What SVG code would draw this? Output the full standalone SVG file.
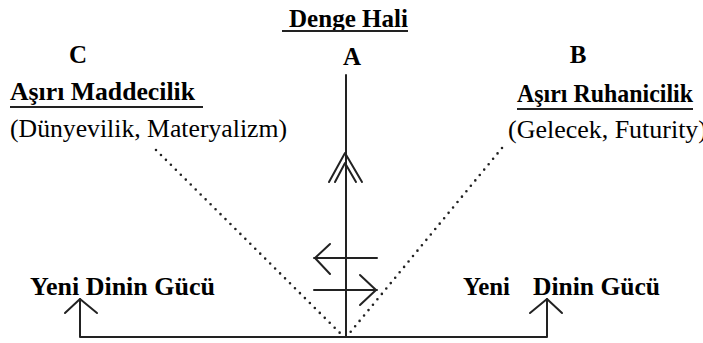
<svg xmlns="http://www.w3.org/2000/svg" width="703" height="343" viewBox="0 0 703 343">
<style>
.ln{stroke:#222;stroke-width:2;fill:none;stroke-linecap:round;stroke-linejoin:round}
.dot{stroke:#222;stroke-width:2.6;fill:none;stroke-linecap:round;stroke-dasharray:0 7}
.ul{stroke:#222;stroke-width:2}
</style>
<rect width="703" height="343" fill="#fff"/>
<g id="title">
<text style="font-family:'Liberation Serif',serif;font-size:25px;font-weight:bold" x="289" y="27" textLength="119" lengthAdjust="spacingAndGlyphs">Denge Hali</text>
<line class="ul" x1="282" y1="31" x2="408" y2="31"/>
</g>
<g id="nodeA"><text style="font-family:'Liberation Serif',serif;font-size:25px;font-weight:bold" x="352" y="65" text-anchor="middle">A</text></g>
<g id="nodeC">
<text style="font-family:'Liberation Serif',serif;font-size:25px;font-weight:bold" x="78" y="63" text-anchor="middle">C</text>
<text style="font-family:'Liberation Serif',serif;font-size:25px;font-weight:bold" x="10" y="100" textLength="185" lengthAdjust="spacingAndGlyphs">Aşırı Maddecilik</text>
<line class="ul" x1="10" y1="107" x2="203" y2="107"/>
<text style="font-family:'Liberation Serif',serif;font-size:25px" x="10" y="137" textLength="277" lengthAdjust="spacingAndGlyphs">(Dünyevilik, Materyalizm)</text>
</g>
<g id="nodeB">
<text style="font-family:'Liberation Serif',serif;font-size:25px;font-weight:bold" x="578" y="63" text-anchor="middle">B</text>
<text style="font-family:'Liberation Serif',serif;font-size:25px;font-weight:bold" x="517" y="102" textLength="176" lengthAdjust="spacingAndGlyphs">Aşırı Ruhanicilik</text>
<line class="ul" x1="517" y1="109" x2="693" y2="109"/>
<text style="font-family:'Liberation Serif',serif;font-size:25px" x="508" y="138" textLength="199" lengthAdjust="spacingAndGlyphs">(Gelecek, Futurity)</text>
</g>
<g id="leftPower"><text style="font-family:'Liberation Serif',serif;font-size:25px;font-weight:bold" x="30" y="295" textLength="185" lengthAdjust="spacingAndGlyphs">Yeni Dinin Gücü</text></g>
<g id="rightPower">
<text style="font-family:'Liberation Serif',serif;font-size:25px;font-weight:bold" x="463" y="295" textLength="47" lengthAdjust="spacingAndGlyphs">Yeni</text>
<text style="font-family:'Liberation Serif',serif;font-size:25px;font-weight:bold" x="533" y="295" textLength="127" lengthAdjust="spacingAndGlyphs">Dinin Gücü</text>
</g>
<g id="connectors">
<line class="dot" x1="156" y1="150" x2="342" y2="335"/>
<line class="dot" x1="502" y1="148" x2="348" y2="335"/>
<line class="ln" x1="346" y1="75" x2="346" y2="337"/>
<path class="ln" d="M329,182 L345,153 L362,182 M335,182 L345,163 L356,182"/>
<path class="ln" d="M314,258 L377,258 M330,244 L315,258 L330,274"/>
<path class="ln" d="M314,290 L377,290 M360,275 L376,290 L360,305"/>
<path class="ln" d="M80,299 L80,337 L547,337 L547,299"/>
<path class="ln" d="M65,313 L80,299 L97,313"/>
<path class="ln" d="M530,313 L547,299 L562,313"/>
</g>
</svg>
